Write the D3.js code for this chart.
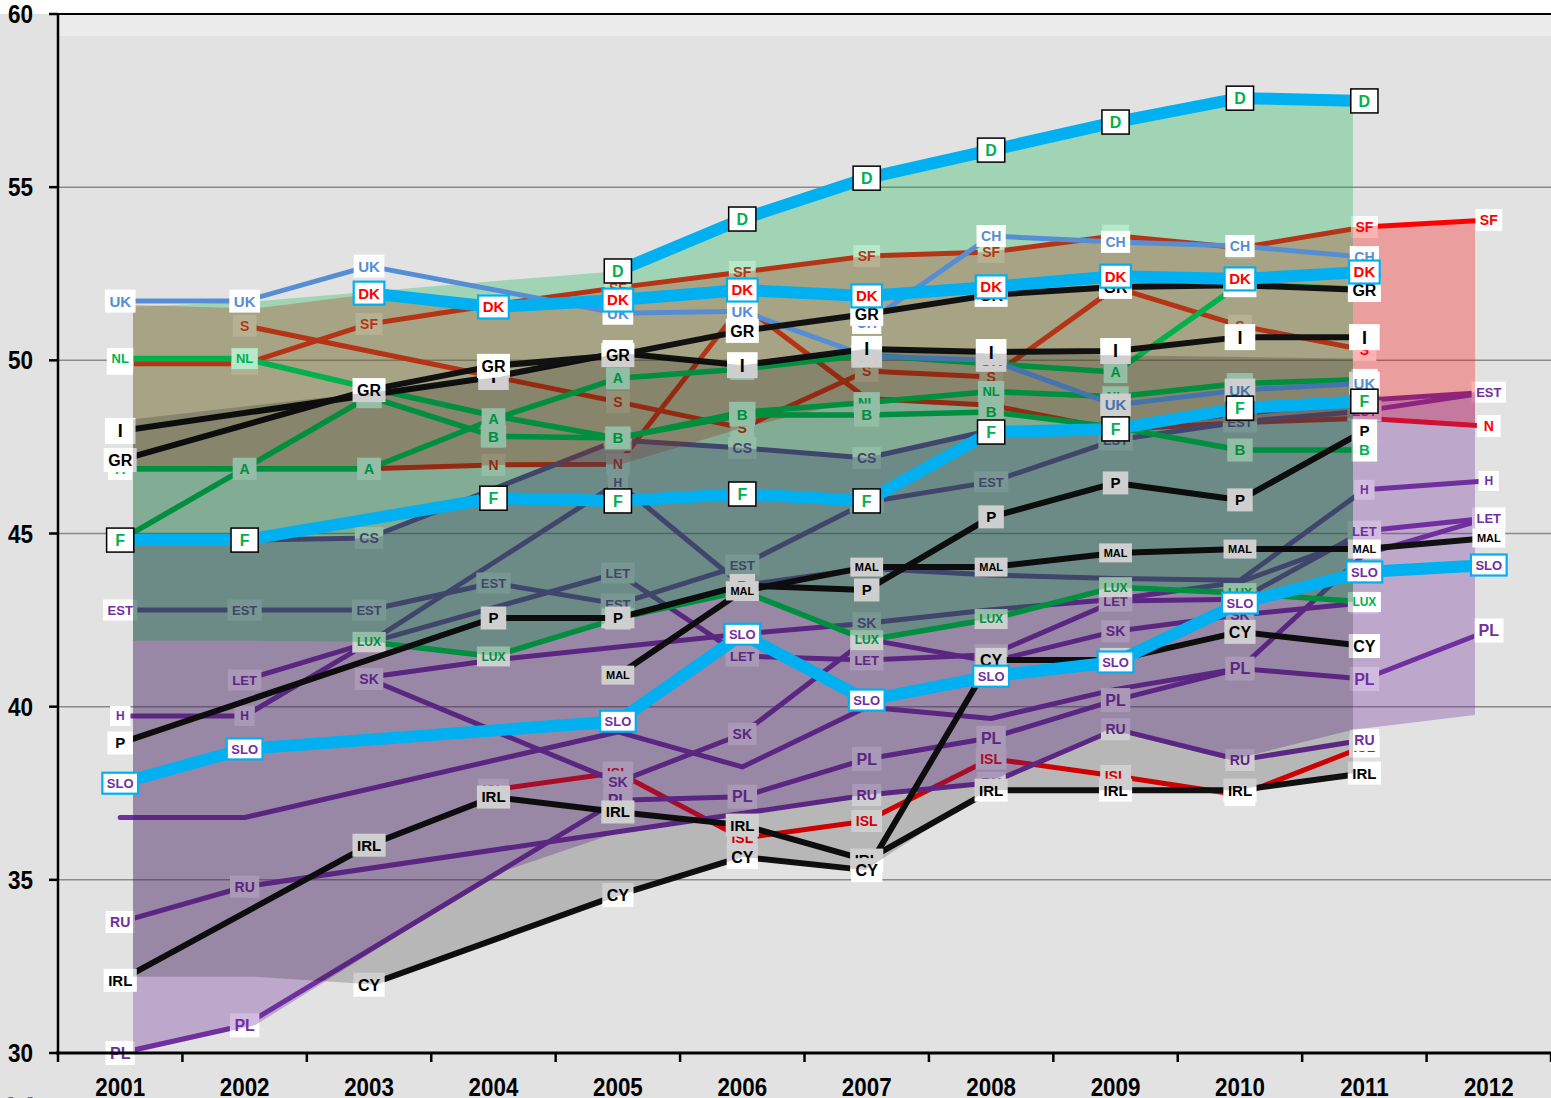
<!DOCTYPE html>
<html><head><meta charset="utf-8">
<script src="https://cdn.jsdelivr.net/npm/d3@7"></script>
<style>html,body{margin:0;padding:0;background:#e2e2e2;}svg{display:block}</style>
</head><body>
<svg id="c" width="1551" height="1098"></svg>
<script>
// ---------------- DATA ----------------
const years = [2001,2002,2003,2004,2005,2006,2007,2008,2009,2010,2011,2012];
const yTicks = [30,35,40,45,50,55,60];

// red group (Nordic)
const vSF  = [49.9,49.9,51.05,51.6,52.1,52.55,53.01,53.13,53.6,53.25,53.85,54.05];
const vS   = [null,51.0,null,null,48.8,48.05,49.69,49.52,52.1,51.0,50.3,null];
const vN   = [46.87,46.87,46.87,46.98,47.0,51.6,48.9,48.7,48.0,48.2,48.33,48.1];
const vISL = [null,null,null,37.6,38.1,36.2,36.7,38.5,38.0,37.45,38.85,null];
// purple group
const vCS  = [44.81,44.81,44.87,null,47.7,47.47,47.18,47.98,48.1,48.45,48.85,49.08];
const vEST = [42.79,42.79,42.79,43.57,42.96,44.09,45.9,46.49,47.7,48.22,48.54,49.08];
const vLET = [null,40.77,41.85,null,43.86,41.46,41.35,41.5,43.05,43.1,45.07,45.45];
const vH   = [39.73,39.73,41.85,null,46.46,43.5,44.0,43.8,43.7,43.65,46.26,46.52];
const vSK  = [null,null,40.8,null,37.82,39.21,41.95,41.3,42.18,42.65,43.0,null];
const vSK2 = [null,null,40.85,41.35,null,42.1,42.41,42.8,43.1,43.6,44.9,null];
const vLT  = [36.8,36.8,null,null,39.27,38.26,39.99,39.66,40.5,41.1,44.4,45.45];
const vRU  = [33.78,34.8,null,null,null,null,37.45,37.8,39.35,38.46,39.04,null];
const vPL  = [30.0,30.8,null,null,37.3,37.4,38.49,39.1,40.19,41.1,40.8,42.2];
// green group
const vNL  = [50.05,50.05,49.2,48.4,47.75,48.5,48.78,49.1,48.95,49.33,49.45,null];
const vA   = [46.87,46.87,46.87,48.3,49.48,49.75,50.15,49.9,49.66,52.2,52.05,null];
const vB   = [44.81,null,48.95,47.81,47.76,48.42,48.42,48.51,48.07,47.41,47.41,null];
const vLUX = [null,null,41.87,41.45,42.55,43.34,41.92,42.53,43.45,43.28,43.02,null];
// black group
const vGR  = [47.12,null,49.14,49.84,50.15,50.85,51.34,51.89,52.12,52.17,52.03,null];
const vI   = [47.96,null,null,49.52,50.21,49.86,50.33,50.24,50.27,50.67,50.67,null];
const vP   = [38.95,null,null,42.56,42.56,43.5,43.37,45.48,46.46,45.97,47.96,null];
const vMAL = [null,null,null,null,40.91,43.34,44.03,44.03,44.44,44.55,44.55,44.87];
const vIRL = [32.1,null,36.0,37.39,36.96,36.58,35.57,37.59,37.59,37.59,38.08,null];
const vCY  = [null,null,31.97,null,34.56,35.66,35.28,41.35,41.35,42.16,41.75,null];
// blue group
const vUK  = [51.71,51.71,52.72,null,51.36,51.42,50.12,50.0,48.71,49.14,49.34,null];
const vCH  = [null,null,null,null,null,null,51.08,53.59,53.42,53.30,52.98,null];
// highlighted (thick cyan)
const vD   = [null,null,null,null,52.58,54.08,55.26,56.07,56.88,57.57,57.49,null];
const vF   = [44.81,44.81,null,46.02,45.94,46.14,45.94,47.93,48.02,48.62,48.82,null];
const vDK  = [null,null,51.94,51.54,51.74,52.03,51.86,52.12,52.43,52.35,52.55,null];
const vSLO = [37.79,38.78,null,null,39.58,42.09,40.19,40.88,41.29,42.99,43.89,44.09];

// group bands (top / bottom)
const pinkTop   = [51.6,51.5,51.94,51.6,52.1,52.55,53.01,53.13,53.6,53.25,53.85,54.05];
const pinkBot   = [46.87,46.87,46.87,46.98,47.0,48.05,48.9,48.7,48.0,48.2,48.33,48.1];
const purpleTop = [44.81,44.81,44.87,46.3,47.7,47.47,47.18,47.98,48.1,48.45,48.85,49.08];
const purpleBot = [30.0,30.8,33.0,35.2,36.4,37.0,37.45,37.8,39.35,38.46,39.33,39.76];
const greenTop  = [51.55,51.7,52.0,52.3,52.58,54.08,55.26,56.07,56.88,57.57,57.49,null];
const greenBot  = [41.9,41.9,41.87,41.45,42.55,43.34,41.92,42.53,43.45,43.28,43.02,null];
const grayTop   = [48.3,48.7,49.1,49.52,50.21,49.86,50.33,50.2,50.15,50.1,50.05,null];
const grayBot   = [32.2,32.2,31.97,33.26,34.56,35.66,35.28,37.59,37.59,37.59,38.08,null];

// label visibility lists
const onlyN   = [2001,2002,2003,2004,2005,2012];
const hideH   = [2007,2008,2009,2010];
const hideA   = [2008];
const hideNL  = [2003,2004,2005];
const hideCS  = [2012];
const onlySK2 = [2007];

// ---------------- STYLE ----------------
const COL = {red:'#ff0000', purple:'#7030a0', green:'#00b050', black:'#111111', blue:'#558ed5', cyan:'#00b0f0'};
const LW  = {red:5, purple:5, green:5.5, black:6, blue:5, cyan:12};
const FS  = {UK:15,CH:14,GR:16,I:18,P:15,MAL:11,IRL:15,CY:16,SF:14,S:14,N:14,ISL:14,NL:13,A:14,B:15,LUX:12,
             CS:14,EST:13,LET:13,H:12,SK:14,RU:14,PL:16,D:16,F:16,DK:15,SLO:13};
const FONT = "'Liberation Sans', Arial, sans-serif";

const mk = (name, vals, group, opts={}) => Object.assign({name, vals, group}, opts);
const layer1Lines = [
  mk('SF',vSF,'red'), mk('S',vS,'red'), mk('N',vN,'red',{only:onlyN}), mk('ISL',vISL,'red'),
  mk('CS',vCS,'purple',{hide:hideCS}), mk('EST',vEST,'purple'), mk('LET',vLET,'purple'), mk('H',vH,'purple',{hide:hideH}),
  mk('SK',vSK2,'purple',{only:onlySK2}), mk('LT',vLT,'purple',{nolabel:true}), mk('PL',vPL,'purple'),
  mk('RU',vRU,'purple'), mk('SK',vSK,'purple')
];
const layer2Lines = [ mk('NL',vNL,'green',{hide:hideNL}), mk('A',vA,'green',{hide:hideA}), mk('B',vB,'green'), mk('LUX',vLUX,'green') ];
const layer3Lines = [ mk('UK',vUK,'blue'), mk('CH',vCH,'blue'),
  mk('IRL',vIRL,'black'), mk('CY',vCY,'black'), mk('P',vP,'black'), mk('MAL',vMAL,'black'), mk('I',vI,'black'), mk('GR',vGR,'black') ];
const layer4Lines = [
  mk('SLO',vSLO,'cyan',{tc:COL.purple, bc:COL.cyan}), mk('F',vF,'cyan',{tc:COL.green, bc:'#000'}),
  mk('DK',vDK,'cyan',{tc:COL.red, bc:COL.cyan}), mk('D',vD,'cyan',{tc:COL.green, bc:'#000'})
];

// ---------------- SCALES ----------------
const svg = d3.select('#c');
const x = d3.scaleBand().domain(years).range([58,1551]).padding(0);
const xc = yr => x(yr) + x.bandwidth()/2;
const y = d3.scaleLinear().domain([30,60]).range([1053,14]);
const xf = d3.scaleLinear().domain([2001,2012]).range([133,1475]);

// background
svg.append('rect').attr('width',1551).attr('height',1098).attr('fill','#e2e2e2');
svg.append('rect').attr('width',1551).attr('height',14).attr('fill','#ffffff');
svg.append('rect').attr('x',58).attr('y',14).attr('width',1493).attr('height',22).attr('fill','#ececec');

// gridlines
svg.append('g').selectAll('line').data(yTicks.filter(t=>t>30&&t<60)).join('line')
  .attr('x1',58).attr('x2',1551).attr('y1',d=>y(d)).attr('y2',d=>y(d))
  .attr('stroke','#8a8a8a').attr('stroke-width',1.5);

const pts = vals => years.map((yr,i)=>({yr, v:vals[i]})).filter(d=>d.v!=null);
const lineGen = d3.line().x(d=>xc(d.yr)).y(d=>y(d.v));

function drawLines(g, list){
  list.forEach(s=>{
    g.append('path').attr('d', lineGen(pts(s.vals))).attr('fill','none')
      .attr('stroke', COL[s.group]).attr('stroke-width', LW[s.group])
      .attr('stroke-linejoin','round').attr('stroke-linecap','round');
  });
}
function drawLabels(g, list){
  list.forEach(s=>{
    if (s.nolabel) return;
    const fs = FS[s.name] || 14;
    const tc = s.tc || (s.group==='black' ? '#000' : COL[s.group]);
    pts(s.vals).forEach(d=>{
      if (s.hide && s.hide.includes(d.yr)) return;
      if (s.only && !s.only.includes(d.yr)) return;
      const lg = g.append('g').attr('transform',`translate(${xc(d.yr)},${y(d.v)})`);
      const r = lg.append('rect');
      const t = lg.append('text').text(s.name).attr('text-anchor','middle').attr('dy','0.36em')
        .attr('font-family',FONT).attr('font-weight','bold').attr('font-size',fs).attr('fill',tc);
      const w = Math.max(t.node().getComputedTextLength()+9, fs*1.7);
      const h = fs + 8;
      r.attr('x',-w/2).attr('y',-h/2).attr('width',w).attr('height',h).attr('fill','#ffffff');
      if (s.bc) r.attr('stroke',s.bc).attr('stroke-width', s.bc==='#000'?1.5:2.2);
    });
  });
}
function band(g, top, bot, fill){
  const d = years.map((yr,i)=>({yr,t:top[i],b:bot[i]})).filter(p=>p.t!=null && p.b!=null);
  g.append('path').attr('d', d3.area().x(p=>xf(p.yr)).y0(p=>y(p.b)).y1(p=>y(p.t))(d)).attr('fill',fill);
}

const L1 = svg.append('g');
drawLines(L1, layer1Lines); drawLabels(L1, layer1Lines);
band(svg.append('g'), pinkTop, pinkBot, 'rgba(255,0,0,0.30)');
band(svg.append('g'), purpleTop, purpleBot, 'rgba(112,48,160,0.32)');
const L2 = svg.append('g');
drawLines(L2, layer2Lines); drawLabels(L2, layer2Lines);
band(svg.append('g'), greenTop, greenBot, 'rgba(0,179,72,0.29)');
const L3 = svg.append('g');
drawLines(L3, layer3Lines); drawLabels(L3, layer3Lines);
band(svg.append('g'), grayTop, grayBot, 'rgba(0,0,0,0.19)');
const L4 = svg.append('g');
drawLines(L4, layer4Lines); drawLabels(L4, layer4Lines);

// axes
const ax = svg.append('g');
ax.append('line').attr('x1',58).attr('x2',1551).attr('y1',14).attr('y2',14).attr('stroke','#000').attr('stroke-width',2);
ax.append('line').attr('x1',58).attr('x2',58).attr('y1',13).attr('y2',1054).attr('stroke','#000').attr('stroke-width',2.5);
ax.append('line').attr('x1',56).attr('x2',1551).attr('y1',1053).attr('y2',1053).attr('stroke','#000').attr('stroke-width',3);
ax.selectAll('.yt').data(yTicks).join('line').attr('x1',49).attr('x2',58)
  .attr('y1',d=>y(d)).attr('y2',d=>y(d)).attr('stroke','#000').attr('stroke-width',2.5);
const bounds = years.map(yr=>x(yr)).concat([x(2012)+x.bandwidth()]);
ax.selectAll('.xt').data(bounds).join('line').attr('x1',d=>d).attr('x2',d=>d)
  .attr('y1',1053).attr('y2',1062).attr('stroke','#000').attr('stroke-width',2.5);
ax.selectAll('.yl').data(yTicks).join('text').text(d=>d)
  .attr('transform',d=>`translate(33,${y(d)+9}) scale(0.9,1)`).attr('text-anchor','end')
  .attr('font-family',FONT).attr('font-weight','bold').attr('font-size',25).attr('fill','#000');
ax.selectAll('.xl').data(years).join('text').text(d=>d)
  .attr('transform',d=>`translate(${xc(d)},1096) scale(0.86,1)`).attr('text-anchor','middle')
  .attr('font-family',FONT).attr('font-weight','bold').attr('font-size',26).attr('fill','#000');
svg.append('text').text('14').attr('x',2).attr('y',1117).attr('font-family',FONT)
  .attr('font-weight','bold').attr('font-size',30).attr('fill','#5b6b8c');
</script>
</body></html>
